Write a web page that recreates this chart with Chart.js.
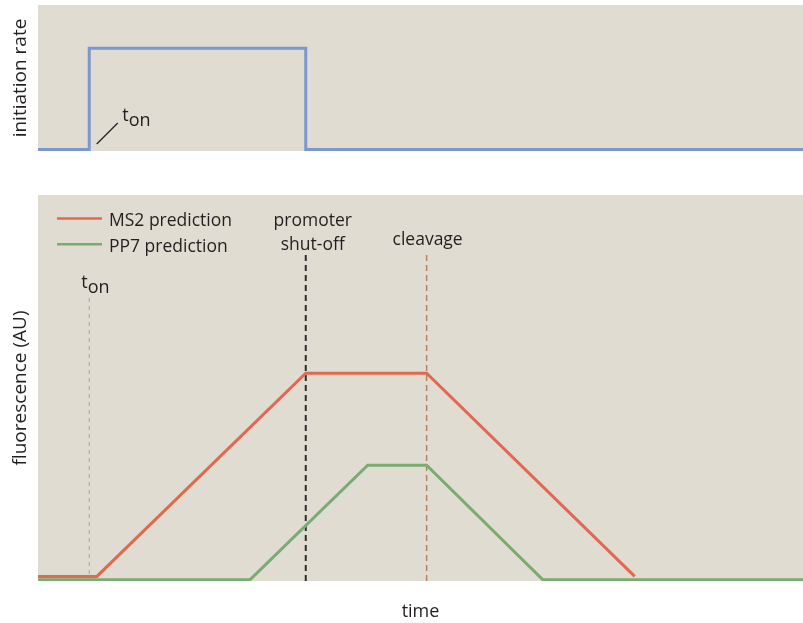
<!DOCTYPE html>
<html>
<head>
<meta charset="utf-8">
<script src="https://cdn.jsdelivr.net/npm/chart.js@4"></script>
<style>
  body { margin: 0; background: #fff; width: 803px; height: 623px; overflow: hidden; position: relative; }
  #wrap-rate { position: absolute; left: 0; top: 0; width: 803px; height: 165px; }
  #wrap-fluo { position: absolute; left: 0; top: 165px; width: 803px; height: 458px; }
</style>
</head>
<body>
<div id="wrap-rate"><canvas id="chart-rate"></canvas></div>
<div id="wrap-fluo"><canvas id="chart-fluo"></canvas></div>
<script>
// time axis in arbitrary units (0..100)
const T_ON = 6.7;
const T_SHUTOFF = 35.0;
const T_CLEAVAGE = 50.8;

// initiation rate (top panel)
const rateTime  = [0, 6.7, 6.7, 35.0, 35.0, 100];
const rateValue = [0, 0, 0.70, 0.70, 0, 0];

// fluorescence predictions (bottom panel)
const ms2Time  = [0, 7.7, 35.0, 50.8, 78.0];
const ms2Value = [0.009, 0.009, 0.537, 0.537, 0.009];
const pp7Time  = [0, 27.7, 43.1, 50.8, 66.0, 100];
const pp7Value = [0, 0, 0.298, 0.298, 0, 0];

const seriesLabels = ['MS2 prediction', 'PP7 prediction'];
const seriesColors = ['#e0694f', '#79ad70'];

const BG = '#e1dcd1';
const INK = '#231f20';
const FONT = '"Open Sans", sans-serif';

const toPoints = (xs, ys) => xs.map((x, i) => ({ x, y: ys[i] }));

// fond bege só na área do gráfico
const panelBg = {
    id: 'panelBg',
    beforeDraw(chart) {
        const { ctx, chartArea: a } = chart;
        ctx.save();
        ctx.fillStyle = BG;
        ctx.fillRect(a.left, a.top, a.right - a.left, a.bottom - a.top);
        ctx.restore();
    }
};

// t com subscrito "on"
const drawTon = (ctx, x, y) => {
    ctx.save();
    ctx.fillStyle = INK;
    ctx.font = '18px ' + FONT;
    ctx.textAlign = 'left';
    ctx.textBaseline = 'alphabetic';
    ctx.fillText('t', x, y);
    const w = ctx.measureText('t').width;
    ctx.fillText('on', x + w, y + 5);
    ctx.restore();
};

const dashedV = (ctx, x, y0, y1, color, width, dash) => {
    ctx.save();
    ctx.strokeStyle = color;
    ctx.lineWidth = width;
    ctx.setLineDash(dash);
    ctx.beginPath();
    ctx.moveTo(x, y0);
    ctx.lineTo(x, y1);
    ctx.stroke();
    ctx.restore();
};

const rateNotes = {
    id: 'rateNotes',
    afterDatasetsDraw(chart) {
        const { ctx, chartArea: a, scales: { x } } = chart;
        const px = x.getPixelForValue(T_ON);
        ctx.save();
        ctx.strokeStyle = INK;
        ctx.lineWidth = 1.2;
        ctx.beginPath();
        ctx.moveTo(px + 7.5, a.top + 139);
        ctx.lineTo(px + 28.5, a.top + 118);
        ctx.stroke();
        ctx.restore();
        drawTon(ctx, px + 33, a.top + 116);
    }
};

const fluoMarkers = {
    id: 'fluoMarkers',
    beforeDatasetsDraw(chart) {
        const { ctx, chartArea: a, scales: { x } } = chart;
        dashedV(ctx, x.getPixelForValue(T_ON), a.top + 103, a.bottom, '#9ea6b8', 1, [4, 4]);
        dashedV(ctx, x.getPixelForValue(T_SHUTOFF), a.top + 60, a.bottom + 1, '#2e2e2e', 2, [6, 4]);
        dashedV(ctx, x.getPixelForValue(T_CLEAVAGE), a.top + 60, a.bottom, '#b08462', 1.5, [6, 4]);
    },
    afterDatasetsDraw(chart) {
        const { ctx, chartArea: a, scales: { x } } = chart;
        ctx.save();
        ctx.fillStyle = INK;
        ctx.font = '17.5px ' + FONT;
        ctx.textAlign = 'center';
        ctx.textBaseline = 'alphabetic';
        const xs = x.getPixelForValue(T_SHUTOFF);
        ctx.fillText('promoter', xs + 7, a.top + 31);
        ctx.fillText('shut-off', xs + 7, a.top + 55);
        ctx.fillText('cleavage', x.getPixelForValue(T_CLEAVAGE) + 1, a.top + 50);

        // legenda manual dentro do painel
        ctx.textAlign = 'left';
        seriesLabels.forEach((lbl, i) => {
            const ly = a.top + 23.5 + i * 25.7;
            ctx.strokeStyle = seriesColors[i];
            ctx.lineWidth = 2.5;
            ctx.beginPath();
            ctx.moveTo(a.left + 19, ly);
            ctx.lineTo(a.left + 64, ly);
            ctx.stroke();
            ctx.fillText(lbl, a.left + 71, ly + 7.5);
        });
        ctx.restore();
        drawTon(ctx, x.getPixelForValue(T_ON) - 8, a.top + 93);
    }
};

const hiddenX = { type: 'linear', min: 0, max: 100, display: false };

const yAxis = (text, min) => ({
    type: 'linear',
    min,
    max: 1,
    display: true,
    ticks: { display: false },
    grid: { display: false },
    border: { display: false },
    title: { display: true, text, color: INK, font: { family: FONT, size: 19 }, padding: { top: 9, bottom: 0 } },
    afterFit: s => { s.width = 38; }
});

Chart.defaults.animation = false;

new Chart(document.getElementById('chart-rate'), {
    type: 'line',
    data: {
        datasets: [{
            data: toPoints(rateTime, rateValue),
            borderColor: '#7b97cd',
            borderWidth: 3,
            pointRadius: 0,
            tension: 0
        }]
    },
    options: {
        responsive: true,
        maintainAspectRatio: false,
        layout: { padding: { top: 5, right: 0, bottom: 14, left: 0 } },
        scales: { x: hiddenX, y: yAxis('initiation rate', -0.01) },
        plugins: { legend: { display: false }, tooltip: { enabled: false } }
    },
    plugins: [panelBg, rateNotes]
});

new Chart(document.getElementById('chart-fluo'), {
    type: 'line',
    data: {
        datasets: [
            {
                label: seriesLabels[0],
                data: toPoints(ms2Time, ms2Value),
                borderColor: seriesColors[0],
                borderWidth: 3,
                pointRadius: 0,
                tension: 0
            },
            {
                label: seriesLabels[1],
                data: toPoints(pp7Time, pp7Value),
                borderColor: seriesColors[1],
                borderWidth: 3,
                pointRadius: 0,
                tension: 0
            }
        ]
    },
    options: {
        responsive: true,
        maintainAspectRatio: false,
        layout: { padding: { top: 30, right: 0, bottom: 0, left: 0 } },
        scales: {
            x: {
                type: 'linear',
                min: 0,
                max: 100,
                display: true,
                ticks: { display: false },
                grid: { display: false },
                border: { display: false },
                title: { display: true, text: 'time', color: INK, font: { family: FONT, size: 18 }, padding: { top: 0, bottom: 0 } },
                afterFit: s => { s.height = 42; }
            },
            y: yAxis('fluorescence (AU)', -0.003)
        },
        plugins: { legend: { display: false }, tooltip: { enabled: false } }
    },
    plugins: [panelBg, fluoMarkers]
});
</script>
</body>
</html>
